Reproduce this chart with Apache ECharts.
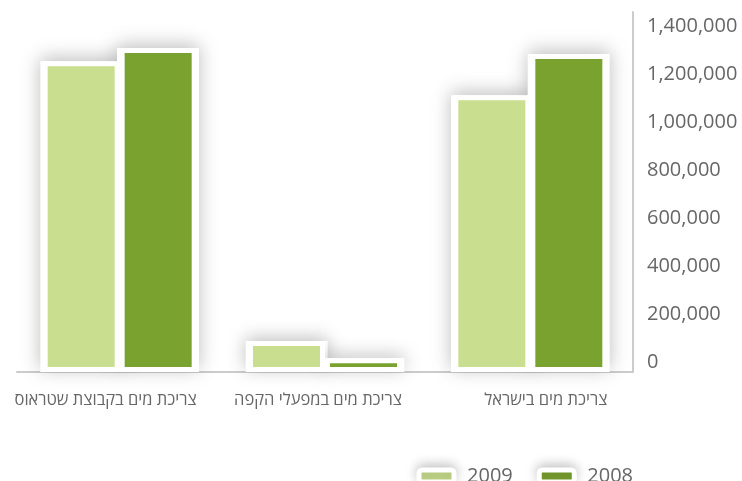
<!DOCTYPE html>
<html>
<head>
<meta charset="utf-8">
<script src="https://cdn.jsdelivr.net/npm/echarts@6/dist/echarts.min.js"></script>
<style>
  html, body { margin: 0; padding: 0; background: #fff; }
  #chart { width: 742px; height: 481px; }
</style>
</head>
<body>
<div id="chart"></div>
<script>
// Water consumption (m³), categories listed right-to-left
const categories = ['צריכת מים בישראל', 'צריכת מים במפעלי הקפה', 'צריכת מים בקבוצת שטראוס'];
const seriesNames = ['2009', '2008'];
const values2009 = [1153000, 129000, 1295000];
const values2008 = [1325000, 57000, 1350000];
const yTickStep = 200000;
const yAxisMax = 1500000;

const FONT = '"Open Sans", "Liberation Sans", "DejaVu Sans", sans-serif';
const LABEL_GREY = '#666666';
const LIGHT_GREEN = '#c9de8e';
const DARK_GREEN = '#79a22f';
const BAR_WIDTH = 77;
const FRAME = 5;

// Soft drop shadow drawn on a hidden twin axis beneath the coloured bars,
// so the shadow never bleeds onto the bar fills.
const shadowSeries = (name, data) => ({
  name: name + '-shadow',
  type: 'bar',
  xAxisIndex: 1,
  data: data,
  barWidth: BAR_WIDTH + FRAME,
  barGap: '-6.5%',
  silent: true,
  z: 1,
  itemStyle: {
    color: '#ffffff',
    shadowColor: 'rgba(0,0,0,0.26)',
    shadowBlur: 18,
    shadowOffsetY: -3
  }
});

const colourSeries = (name, data, color) => ({
  name: name,
  type: 'bar',
  xAxisIndex: 0,
  data: data,
  barWidth: BAR_WIDTH,
  barGap: '0%',
  z: 3,
  itemStyle: { color: color, borderColor: '#ffffff', borderWidth: FRAME }
});

const chart = echarts.init(document.getElementById('chart'), null, { renderer: 'canvas' });

chart.setOption({
  animation: false,
  backgroundColor: '#ffffff',
  grid: { left: 17, right: 109, top: 12, bottom: 109, containLabel: false, outerBoundsMode: 'none' },
  legend: {
    data: seriesNames,
    right: 104,
    top: 461,
    itemWidth: 35,
    itemHeight: 12,
    itemGap: 24,
    itemStyle: {
      borderColor: '#ffffff',
      borderWidth: FRAME,
      shadowColor: 'rgba(0,0,0,0.2)',
      shadowBlur: 12,
      shadowOffsetY: -3
    },
    textStyle: { fontFamily: FONT, fontSize: 20, color: LABEL_GREY, padding: [0, 0, 0, 8] }
  },
  xAxis: [
    {
      type: 'category',
      data: categories,
      inverse: true,
      axisLine: { show: true, lineStyle: { color: '#cccccc', width: 2 } },
      axisTick: { show: false },
      axisLabel: {
        margin: 20,
        interval: 0,
        formatter: (v) => '{t|' + v + '}',
        rich: {
          t: { width: 154, align: 'right', fontFamily: FONT, fontSize: 16.5, color: LABEL_GREY }
        }
      }
    },
    {
      type: 'category',
      data: categories,
      inverse: true,
      show: false
    }
  ],
  yAxis: {
    type: 'value',
    position: 'right',
    min: 0,
    max: yAxisMax,
    interval: yTickStep,
    splitLine: { show: false },
    axisTick: { show: false },
    axisLine: { show: true, lineStyle: { color: '#cccccc', width: 2 } },
    axisLabel: {
      margin: 14,
      showMaxLabel: false,
      verticalAlign: 'bottom',
      fontFamily: FONT,
      fontSize: 20,
      color: LABEL_GREY,
      formatter: (v) => v % yTickStep === 0 ? v.toLocaleString('en-US') : ''
    }
  },
  series: [
    shadowSeries(seriesNames[0], values2009),
    shadowSeries(seriesNames[1], values2008),
    colourSeries(seriesNames[0], values2009, LIGHT_GREEN),
    colourSeries(seriesNames[1], values2008, DARK_GREEN)
  ]
});
</script>
</body>
</html>
